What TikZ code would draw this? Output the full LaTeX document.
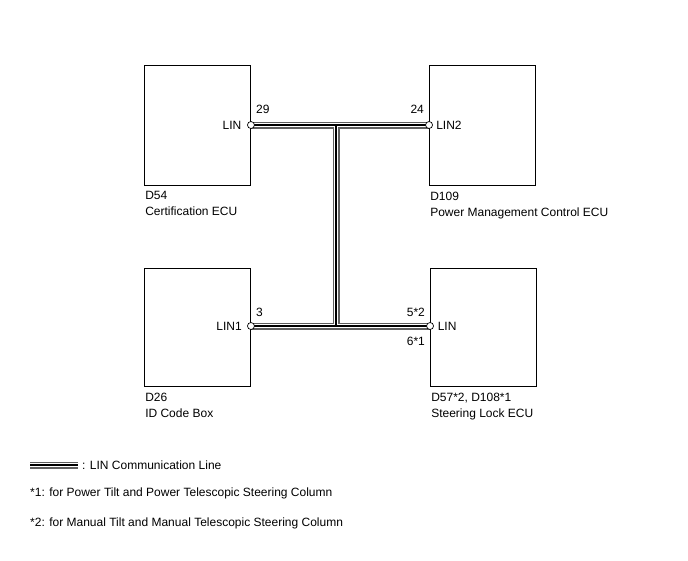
\documentclass[tikz,border=0pt]{standalone}
\usepackage{fontspec}
\setmainfont{Liberation Sans}
\usetikzlibrary{positioning}
\tikzset{
  ecubox/.style={draw, line width=0.9pt, minimum width=106pt, inner sep=0pt},
  pinnode/.style={circle, draw, fill=white, line width=0.7pt, minimum size=7pt, inner sep=0pt},
  pinlabel/.style={font=\fontsize{12}{16}\selectfont, inner sep=0pt},
  caption/.style={font=\fontsize{12}{16}\selectfont, align=left, anchor=north west, inner sep=0pt},
}

\begin{document}
\begin{tikzpicture}[x=1pt, y=-1pt]
  \useasboundingbox (0,0) rectangle (688,560);

  % ECU boxes
  \node[ecubox, minimum height=120pt] (cert) at (197.5,125) {};
  \node[ecubox, minimum height=120pt] (pwr) at (482.5,125) {};
  \node[ecubox, minimum height=118pt] (idbox) at (197.5,327) {};
  \node[ecubox, minimum height=118pt] (lock) at (483.5,327) {};

  % Box captions
  \node[caption] (certcap) at ([shift={(1pt,-6pt)}]cert.south west) {D54\\Certification ECU};
  \node[caption] (pwrcap) at ([shift={(1pt,-6pt)}]pwr.south west) {D109\\Power Management Control ECU};
  \node[caption] (idcap) at ([shift={(1pt,-6pt)}]idbox.south west) {D26\\ID Code Box};
  \node[caption] (lockcap) at ([shift={(1pt,-6pt)}]lock.south west) {D57*2, D108*1\\Steering Lock ECU};

  % Pins
  \coordinate (certlin) at (cert.east);
  \coordinate (pwrlin) at (pwr.west);
  \coordinate (idlin) at ([yshift=1pt]idbox.east);
  \coordinate (locklin) at ([yshift=1pt]lock.west);
  \coordinate (trunk) at (336,0);
  \coordinate (jtop) at (trunk |- certlin);
  \coordinate (jbot) at (trunk |- idlin);

  % Legend sample
  \coordinate (lega) at (30,465);
  \coordinate (legb) at (78,465);

  % LIN communication line
  \foreach \lw/\lc in {7pt/gray!75!black, 4.6pt/white, 2pt/black}
    \draw[line width=\lw, draw=\lc] (certlin) -- (pwrlin) (jtop) -- (jbot) (idlin) -- (locklin) (lega) -- (legb);

  \foreach \p in {certlin, pwrlin, idlin, locklin}
    \node[pinnode] at (\p) {};

  % Pin names
  \node[pinlabel, left=9.5pt of certlin] (certname) {LIN};
  \node[pinlabel, right=7pt of pwrlin] (pwrname) {LIN2};
  \node[pinlabel, left=9pt of idlin] (idname) {LIN1};
  \node[pinlabel, right=7.5pt of locklin] (lockname) {LIN};

  % Terminal numbers
  \node[pinlabel, anchor=base west] at ([xshift=5pt, yshift=12pt]certlin) {29};
  \node[pinlabel, anchor=base east] at ([xshift=-5pt, yshift=12pt]pwrlin) {24};
  \node[pinlabel, anchor=base west] at ([xshift=5pt, yshift=10pt]idlin) {3};
  \node[pinlabel, anchor=base east] at ([xshift=-5pt, yshift=10pt]locklin) {5*2};
  \node[pinlabel, anchor=base east] at ([xshift=-5pt, yshift=-19pt]locklin) {6*1};

  % Legend and notes
  \node[pinlabel, right=4pt of legb] (legtext) {: LIN Communication Line};
  \node[pinlabel, anchor=west] (note1) at (30,493) {*1: for Power Tilt and Power Telescopic Steering Column};
  \node[pinlabel, anchor=west] (note2) at (30,523) {*2: for Manual Tilt and Manual Telescopic Steering Column};
\end{tikzpicture}
\end{document}
